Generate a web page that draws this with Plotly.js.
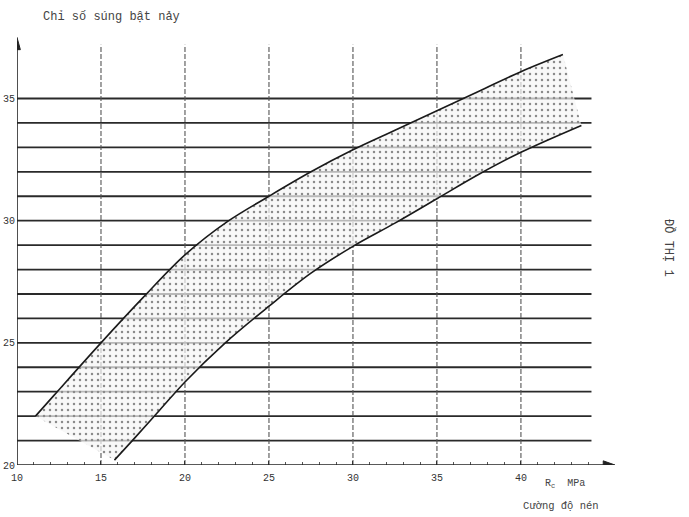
<!DOCTYPE html>
<html>
<head>
<meta charset="utf-8">
<script src="https://cdn.plot.ly/plotly-3.0.1.min.js"></script>
<style>
  html, body { margin: 0; padding: 0; background: #ffffff; }
  #chart { width: 689px; height: 517px; }
</style>
</head>
<body>
<div id="chart"></div>
<script>
// Upper boundary of the band (R_c in MPa, rebound number)
const upperX = [11.1, 12.2, 15, 17.5, 20, 22.5, 25, 27.5, 30, 32.5, 35, 37.5, 40, 42.5];
const upperY = [22.0, 22.85, 25.0, 26.85, 28.6, 29.95, 31.0, 32.0, 32.9, 33.7, 34.5, 35.3, 36.1, 36.8];
// Lower boundary of the band
const lowerX = [15.8, 17, 18.5, 20, 22.4, 25, 27.5, 30, 32.5, 35, 37.5, 40, 43.6];
const lowerY = [20.2, 21.1, 22.25, 23.4, 25.0, 26.5, 27.85, 28.95, 29.9, 30.9, 31.9, 32.8, 33.9];

// Axis ticks and grid
const xTicks = [10, 15, 20, 25, 30, 35, 40];
const xTickText = ['10', '15', '20', '25', '30', '35', '40'];
const yTicks = [20, 25, 30, 35];
const yTickText = ['20', '25', '30', '35'];
const xMinor = [11,12,13,14,16,17,18,19,21,22,23,24,26,27,28,29,31,32,33,34,36,37,38,39,41,42,43,44];
const hGrid = [21,22,23,24,25,26,27,28,29,30,31,32,33,34,35];
const vGrid = [15, 20, 25, 30, 35, 40];

// Text
const topTitle = 'Chỉ số súng bật nảy';
const xUnit = 'R<sub>c</sub>  MPa';
const xTitle = 'Cường độ nén';
const sideLabel = 'ĐỒ THỊ 1';

const XMIN = 10, XMAX = 45.6, YMIN = 20, YMAX = 37.6;
const YARROW = 37.5;
const GRID_XEND = 44.2, GRID_YEND = 37.2;

const bandX = upperX.concat(lowerX.slice().reverse());
const bandY = upperY.concat(lowerY.slice().reverse());

const traces = [
  {
    type: 'scatter', mode: 'none', x: bandX, y: bandY, fill: 'toself',
    fillcolor: 'rgba(245,245,245,0.8)',
    fillpattern: { shape: '.', fgcolor: '#8a8a8a', bgcolor: 'rgba(246,246,246,0.7)', size: 6, solidity: 0.14 },
    hoverinfo: 'skip', showlegend: false
  },
  {
    type: 'scatter', mode: 'lines', x: upperX, y: upperY,
    line: { color: '#1a1a1a', width: 1.6, shape: 'spline', smoothing: 1 },
    showlegend: false
  },
  {
    type: 'scatter', mode: 'lines', x: lowerX, y: lowerY,
    line: { color: '#1a1a1a', width: 1.6, shape: 'spline', smoothing: 1 },
    showlegend: false
  }
];

const shapes = [];
hGrid.forEach(v => shapes.push({
  type: 'line', xref: 'x', yref: 'y', x0: XMIN, x1: GRID_XEND, y0: v, y1: v,
  line: { color: '#2a2a2a', width: 1.8 }, layer: 'below'
}));
vGrid.forEach(v => shapes.push({
  type: 'line', xref: 'x', yref: 'y', x0: v, x1: v, y0: YMIN, y1: GRID_YEND,
  line: { color: '#555', width: 1.1, dash: '5px,2px' }, layer: 'below'
}));
// axes with arrowheads
shapes.push({ type: 'line', xref: 'x', yref: 'y', x0: XMIN, x1: XMAX - 0.3, y0: YMIN, y1: YMIN,
  line: { color: '#222', width: 1.6 } });
shapes.push({ type: 'path', xref: 'x', yref: 'y',
  path: `M ${XMAX},${YMIN} L ${XMAX - 0.7},${YMIN + 0.17} L ${XMAX - 0.7},${YMIN - 0.17} Z`,
  fillcolor: '#222', line: { color: '#222', width: 1 } });
shapes.push({ type: 'line', xref: 'x', yref: 'y', x0: XMIN, x1: XMIN, y0: YMIN, y1: YARROW - 0.3,
  line: { color: '#222', width: 1.6 } });
shapes.push({ type: 'path', xref: 'x', yref: 'y',
  path: `M ${XMIN},${YARROW} L ${XMIN - 0.2},${YARROW - 0.5} L ${XMIN + 0.2},${YARROW - 0.5} Z`,
  fillcolor: '#222', line: { color: '#222', width: 1 } });

const fam = 'Liberation Mono, DejaVu Sans Mono, monospace';
const font = { family: fam, size: 10, color: '#333' };

const annotations = [
  { x: 0.04, y: 1.042, xref: 'paper', yref: 'paper', xanchor: 'left', yanchor: 'middle',
    text: topTitle, showarrow: false, font: { family: fam, size: 12, color: '#444' } },
  { x: 0.88, y: -0.045, xref: 'paper', yref: 'paper', xanchor: 'left', yanchor: 'middle',
    text: xUnit, showarrow: false, font: { family: fam, size: 10, color: '#444' } },
  { x: 0.843, y: -0.095, xref: 'paper', yref: 'paper', xanchor: 'left', yanchor: 'middle',
    text: xTitle, showarrow: false, font: { family: fam, size: 10.5, color: '#444' } },
  { x: 1.09, y: 0.505, xref: 'paper', yref: 'paper', xanchor: 'center', yanchor: 'middle',
    text: sideLabel, textangle: 90, showarrow: false, font: { family: fam, size: 12, color: '#444' } }
];

const layout = {
  width: 689, height: 517,
  margin: { l: 17, r: 74, t: 35, b: 52 },
  paper_bgcolor: '#ffffff', plot_bgcolor: '#ffffff',
  showlegend: false,
  font: font,
  xaxis: {
    range: [XMIN, XMAX], showgrid: false, zeroline: false, showline: false,
    tickmode: 'array', tickvals: xTicks, ticktext: xTickText,
    ticks: 'inside', ticklen: 4, tickcolor: '#333', tickfont: font,
    ticklabelstandoff: 5,
    minor: { tickmode: 'array', tickvals: xMinor, ticks: 'inside', ticklen: 3, tickcolor: '#555' }
  },
  yaxis: {
    range: [YMIN, YMAX], showgrid: false, zeroline: false, showline: false,
    tickmode: 'array', tickvals: yTicks, ticktext: yTickText,
    ticks: '', tickfont: font, ticklabelstandoff: 1
  },
  shapes: shapes,
  annotations: annotations
};

Plotly.newPlot('chart', traces, layout, { displayModeBar: false, staticPlot: true });
</script>
</body>
</html>
